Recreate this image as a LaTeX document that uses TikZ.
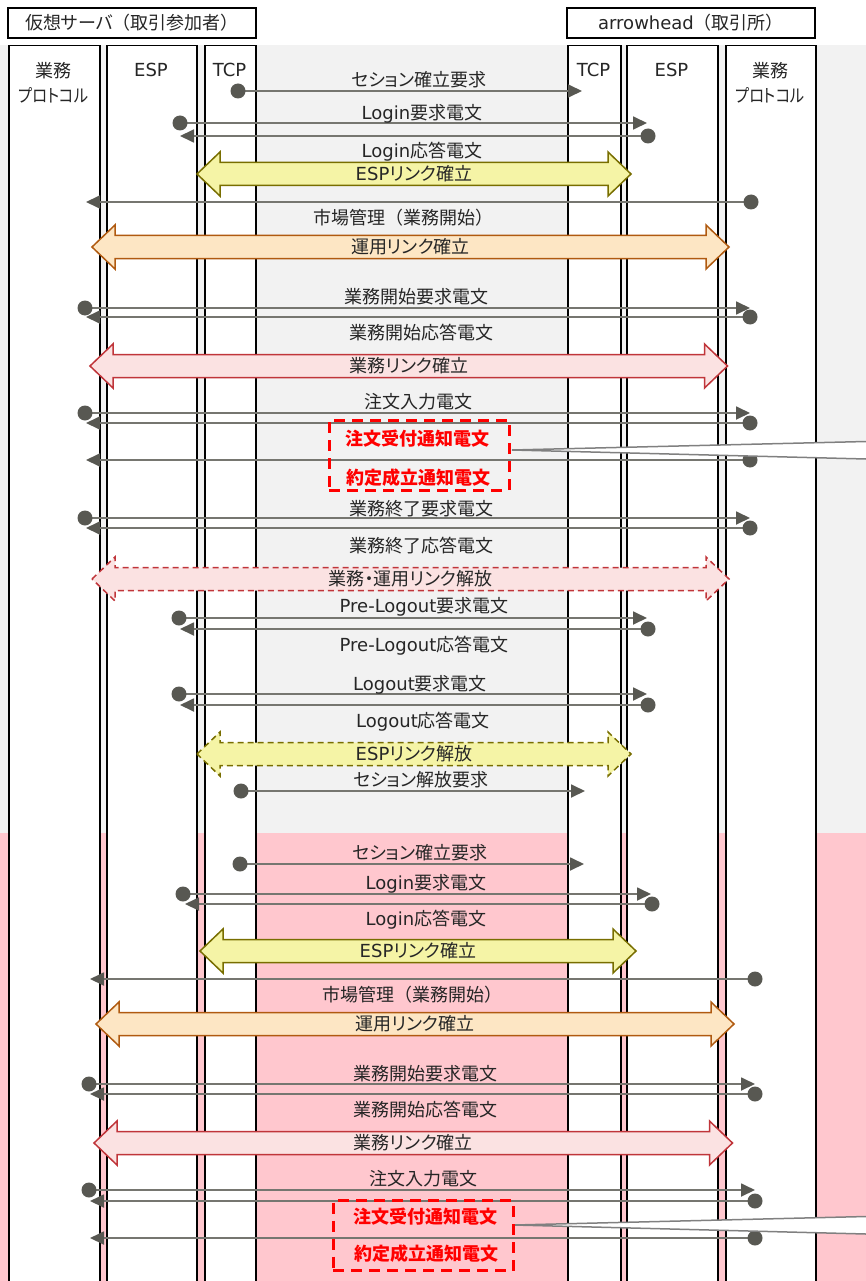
\documentclass[tikz,border=0pt]{standalone}
\usepackage{fontspec}
\setmainfont{Noto Sans CJK JP}[RawFeature=+palt]
\newfontfamily\cjkfull{Noto Sans CJK JP}
\newfontfamily\latf{DejaVu Sans}
\newcommand\la[1]{{\latf #1}}
\newcommand\lpar{{\cjkfull （}}
\newcommand\rpar{{\cjkfull ）}}
\newcommand\narrowtxt[1]{\scalebox{0.85}[1]{#1}}
\usetikzlibrary{arrows.meta}
\definecolor{bggray}{RGB}{242,242,242}
\definecolor{bgpink}{RGB}{255,199,206}
\definecolor{msgline}{RGB}{118,118,112}
\definecolor{headc}{RGB}{88,88,82}
\definecolor{txt}{RGB}{38,38,38}
\definecolor{yelfill}{RGB}{245,244,166}
\definecolor{yeldraw}{RGB}{120,110,0}
\definecolor{orfill}{RGB}{253,230,196}
\definecolor{ordraw}{RGB}{176,90,16}
\definecolor{pkfill}{RGB}{251,226,226}
\definecolor{pkdraw}{RGB}{192,53,58}
\definecolor{wedgec}{RGB}{128,128,128}
\tikzset{
  lane/.style={draw=black, line width=1.5pt, fill=white, anchor=north west, inner sep=0},
  hdr/.style={draw=black, line width=1.5pt, fill=white, minimum width=248pt, minimum height=30pt, inner sep=0, font=\fontsize{18}{22}\selectfont, text=txt},
  lbl/.style={font=\fontsize{18}{22}\selectfont, text=txt, inner sep=0},
  lanelbl/.style={font=\fontsize{18}{25}\selectfont, text=txt, inner sep=0, align=center},
  redlbl/.style={font=\bfseries\fontsize{18}{22}\selectfont, text=red, inner sep=0},
  msg/.style={draw=msgline, line width=1.8pt, -{Triangle[length=14pt,width=13pt,color=headc]}},
  yelarr/.style={draw=yeldraw, fill=yelfill, line width=1.5pt},
  orarr/.style={draw=ordraw, fill=orfill, line width=1.5pt},
  pkarr/.style={draw=pkdraw, fill=pkfill, line width=1.5pt},
  dasharr/.style={dash pattern=on 6pt off 4pt},
  redbox/.style={draw=red, line width=3pt, dash pattern=on 11pt off 7pt, inner sep=0},
  wedgeline/.style={draw=wedgec, line width=1.5pt, line join=miter},
}
\newcommand\msgarrow[4]{% name, y, xdot, xtip
  \coordinate (#1s) at (#3,#2);
  \coordinate (#1e) at (#4,#2);
  \draw[msg] (#1s) -- (#1e);
  \fill[headc] (#1s) circle[radius=7.5pt];
}
\newcommand\bigarrow[6]{% name, style, xl, xr, yc, text
  \draw[#2] (#3,#5) -- ({#3+23},{#5-22}) -- ({#3+23},{#5-11.5}) -- ({#4-23},{#5-11.5})
    -- ({#4-23},{#5-22}) -- (#4,#5) -- ({#4-23},{#5+22}) -- ({#4-23},{#5+11.5})
    -- ({#3+23},{#5+11.5}) -- ({#3+23},{#5+22}) -- cycle;
  \node[lbl] (#1) at ({(#3+#4)/2},#5) {#6};
}
\begin{document}
\begin{tikzpicture}[x=1pt,y=-1pt]
\useasboundingbox (0,0) rectangle (866,1281);
% backgrounds
\fill[white] (0,0) rectangle (866,1281);
\fill[bggray] (0,45) rectangle (866,833);
\fill[bgpink] (0,833) rectangle (866,1281);
% headers
\node[hdr] (hL) at (132,23) {仮想サーバ\lpar 取引参加者\rpar};
\node[hdr] (hR) at (691,23) {\la{arrowhead}\lpar 取引所\rpar};
% lanes
\node[lane, minimum width=91pt, minimum height=1260pt] (LB) at (8,45) {};
\node[lane, minimum width=90pt, minimum height=1260pt] (LE) at (106,45) {};
\node[lane, minimum width=51pt, minimum height=1260pt] (LT) at (204,45) {};
\node[lane, minimum width=53pt, minimum height=1260pt] (RT) at (567,45) {};
\node[lane, minimum width=91pt, minimum height=1260pt] (RE) at (626,45) {};
\node[lane, minimum width=90pt, minimum height=1260pt] (RB) at (725,45) {};
% lane labels
\node[lanelbl] (lLB) at (53.5,83) {業務\\\narrowtxt{プロトコル}};
\node[lanelbl] (lLE) at (151,70) {\la{ESP}};
\node[lanelbl] (lLT) at (229.5,70) {\la{TCP}};
\node[lanelbl] (lRT) at (593.5,70) {\la{TCP}};
\node[lanelbl] (lRE) at (671.5,70) {\la{ESP}};
\node[lanelbl] (lRB) at (770,83) {業務\\\narrowtxt{プロトコル}};
% messages (top)
\msgarrow{m1}{91}{238}{582}
\msgarrow{m2}{123}{180}{647}
\msgarrow{m3}{136}{648}{180}
\msgarrow{m4}{202}{751}{86}
\msgarrow{m5}{308}{85}{750}
\msgarrow{m6}{317}{750}{86}
\msgarrow{m7}{413}{85}{750}
\msgarrow{m8}{423}{750}{86}
\msgarrow{m9}{460}{750}{86}
\msgarrow{m10}{518}{85}{750}
\msgarrow{m11}{528}{750}{86}
\msgarrow{m12}{618}{179}{647}
\msgarrow{m13}{629}{648}{180}
\msgarrow{m14}{694}{179}{647}
\msgarrow{m15}{705}{648}{180}
\msgarrow{m16}{791}{241}{585}
% messages (bottom)
\msgarrow{n1}{864}{240}{584}
\msgarrow{n2}{894}{183}{651}
\msgarrow{n3}{904}{652}{185}
\msgarrow{n4}{979}{755}{90}
\msgarrow{n5}{1084}{89}{755}
\msgarrow{n6}{1094}{755}{90}
\msgarrow{n7}{1190}{89}{755}
\msgarrow{n8}{1201}{755}{90}
\msgarrow{n9}{1238}{755}{90}
% big arrows
\bigarrow{E1}{yelarr}{197}{631}{174}{\la{ESP}リンク確立}
\bigarrow{U1}{orarr}{92}{729}{247}{運用リンク確立}
\bigarrow{G1}{pkarr}{90}{727.5}{366}{業務リンク確立}
\bigarrow{R1}{pkarr,dasharr}{92}{729}{579}{業務・運用リンク解放}
\bigarrow{E2}{yelarr,dasharr}{197}{631}{754}{\la{ESP}リンク解放}
\bigarrow{E3}{yelarr}{200}{636}{951}{\la{ESP}リンク確立}
\bigarrow{U2}{orarr}{96}{734}{1024}{運用リンク確立}
\bigarrow{G2}{pkarr}{94}{732.5}{1143}{業務リンク確立}
% message labels (top)
\node[lbl] (t1) at (419,80) {セション確立要求};
\node[lbl] (t2) at (422,114) {\la{Login}要求電文};
\node[lbl] (t3) at (422,152) {\la{Login}応答電文};
\node[lbl] (t4) at (403,218) {市場管理\lpar 業務開始\rpar};
\node[lbl] (t5) at (416,297) {業務開始要求電文};
\node[lbl] (t6) at (421,333) {業務開始応答電文};
\node[lbl] (t7) at (418,402) {注文入力電文};
\node[lbl] (t8) at (421,509) {業務終了要求電文};
\node[lbl] (t9) at (421,546) {業務終了応答電文};
\node[lbl] (t10) at (424,607) {\la{Pre-Logout}要求電文};
\node[lbl] (t11) at (424,646) {\la{Pre-Logout}応答電文};
\node[lbl] (t12) at (420,685) {\la{Logout}要求電文};
\node[lbl] (t13) at (423,722) {\la{Logout}応答電文};
\node[lbl] (t14) at (421,780) {セション解放要求};
% message labels (bottom)
\node[lbl] (b1) at (420,853) {セション確立要求};
\node[lbl] (b2) at (426,884) {\la{Login}要求電文};
\node[lbl] (b3) at (426,920) {\la{Login}応答電文};
\node[lbl] (b4) at (412,995) {市場管理\lpar 業務開始\rpar};
\node[lbl] (b5) at (425,1074) {業務開始要求電文};
\node[lbl] (b6) at (425,1110) {業務開始応答電文};
\node[lbl] (b7) at (423,1179) {注文入力電文};
% callout wedges
\coordinate (W1) at (512,450);
\coordinate (W1a) at (866,441.5);
\coordinate (W1b) at (866,459);
\fill[white] (W1a) -- (W1) -- (W1b) -- cycle;
\draw[wedgeline] (W1a) -- (W1) -- (W1b);
\coordinate (W2) at (514,1225);
\coordinate (W2a) at (866,1216.5);
\coordinate (W2b) at (866,1234);
\fill[white] (W2a) -- (W2) -- (W2b) -- cycle;
\draw[wedgeline] (W2a) -- (W2) -- (W2b);
% red notice boxes
\node[redbox, minimum width=180pt, minimum height=70pt] (N1) at (419,455) {};
\node[redlbl] (N1a) at (417,439) {注文受付通知電文};
\node[redlbl] (N1b) at (418,478) {約定成立通知電文};
\node[redbox, minimum width=180pt, minimum height=70pt] (N2) at (423,1235.5) {};
\node[redlbl] (N2a) at (425,1217) {注文受付通知電文};
\node[redlbl] (N2b) at (426,1254) {約定成立通知電文};
\end{tikzpicture}
\end{document}
